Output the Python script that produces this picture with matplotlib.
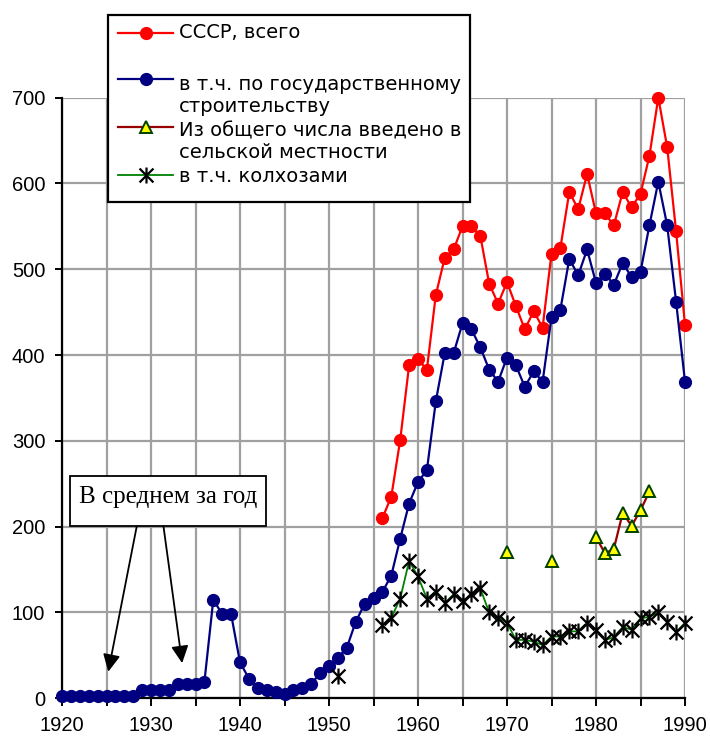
import numpy as np
import matplotlib
matplotlib.use("Agg")
import matplotlib.pyplot as plt
from matplotlib.path import Path
from matplotlib.patches import Rectangle
from matplotlib.lines import Line2D

# ---------------- data ----------------
years = list(range(1920, 1991))

total_years = list(range(1956, 1991))
total_values = [210, 235, 301, 388, 395, 383, 470, 513, 523, 550, 550, 539, 483, 460,
                485, 457, 430, 451, 432, 518, 525, 590, 570, 611, 565, 565, 551, 590,
                572, 588, 632, 700, 642, 544, 435]

state_values = [3, 3, 3, 3, 3, 3, 3, 3, 3,
                10, 10, 10, 10,
                17, 17, 17, 19,
                115, 98, 98, 42, 23, 12, 10, 7, 5, 10, 12, 17, 29, 38, 47, 59, 89,
                110, 117, 124, 143, 186, 227, 252, 266, 346, 402, 402, 437, 430, 409,
                383, 369, 397, 388, 363, 381, 369, 444, 453, 512, 493, 523, 484, 495,
                482, 507, 491, 497, 551, 602, 551, 462, 369]

rural_years = [1970, 1975, 1980, 1981, 1982, 1983, 1984, 1985, 1986]
rural_values = [171, 160, 188, 169, 174, 216, 201, 219, 241]

kolkhoz_years = [1951] + list(range(1956, 1991))
kolkhoz_values = [26,
                  85, 94, 116, 160, 142, 116, 124, 111, 121, 113, 121, 128, 100, 94,
                  88, 68, 68, 66, 62, 72, 72, 78, 78, 88, 80, 68, 71, 83, 80, 93,
                  95, 100, 89, 77, 88]

labels = ["СССР, всего",
          "в т.ч. по государственному\nстроительству",
          "Из общего числа введено в\nсельской местности",
          "в т.ч. колхозами"]
annotation_text = "В среднем за год"

x_ticks = list(range(1920, 1991, 10))
y_ticks = list(range(0, 701, 100))


def full_series(ys, vs):
    """Place values on the yearly axis, NaN where there is no value (gap)."""
    d = dict(zip(ys, vs))
    lo, hi = min(ys), max(ys)
    xs = list(range(lo, hi + 1))
    return xs, [d.get(x, np.nan) for x in xs]


# ---------------- style ----------------
FONT = "Liberation Sans"
LEGFONT = "DejaVu Sans"
RED = "#FF0000"
BLUE = "#000080"
DARKRED = "#990000"
GREEN = "#008000"
GRID = "#A0A0A0"

asterisk = Path([(-1, -1), (1, 1), (-1, 1), (1, -1), (0, -1.15), (0, 1.15)],
                [Path.MOVETO, Path.LINETO, Path.MOVETO, Path.LINETO, Path.MOVETO, Path.LINETO])

W, H = 710, 738
fig = plt.figure(figsize=(W / 100, H / 100), dpi=100)
fig.patch.set_facecolor("white")

# axes: x 1920 -> px 62, 1990 -> px 685 ; y 0 -> px 698.3, 700 -> px 97.6
ax = fig.add_axes([62 / W, 1 - 698.3 / H, (685 - 62) / W, (698.3 - 97.6) / H])
ax.set_xlim(1920, 1990)
ax.set_ylim(0, 700)

ax.set_xticks(list(range(1920, 1991, 5)))
ax.set_xticklabels([str(v) if v in x_ticks else "" for v in range(1920, 1991, 5)])
ax.set_yticks(y_ticks)
ax.grid(True, color=GRID, linewidth=1.6, zorder=0)
ax.set_axisbelow(True)
for s in ("top", "right"):
    ax.spines[s].set_visible(False)
for s in ("left", "bottom"):
    ax.spines[s].set_linewidth(1.6)
    ax.spines[s].set_color("black")
    ax.spines[s].set_zorder(1)
ax.tick_params(direction="out", width=1.4, colors="black", labelsize=14.5)
ax.tick_params(axis="x", length=6, pad=7)
ax.tick_params(axis="y", length=5, pad=7)
for lab in ax.get_xticklabels() + ax.get_yticklabels():
    lab.set_fontfamily(FONT)

# ---------------- series ----------------
ax.plot(total_years, total_values, color=RED, lw=1.6, marker="o", ms=8.5,
        mfc=RED, mec=RED, clip_on=False, zorder=3)
ax.plot(years, state_values, color=BLUE, lw=1.6, marker="o", ms=8.5,
        mfc=BLUE, mec=BLUE, clip_on=False, zorder=3)
rx, rv = full_series(rural_years, rural_values)
ax.plot(rx, rv, color=DARKRED, lw=1.6, marker="^", ms=9,
        mfc="#FFFF00", mec="#004000", mew=1.4, clip_on=False, zorder=4)
kx, kv = full_series(kolkhoz_years, kolkhoz_values)
ax.plot(kx, kv, color=GREEN, lw=1.3, marker=asterisk, ms=11.5,
        mfc="none", mec="black", mew=1.6, clip_on=False, zorder=4)

# ---------------- annotation box with arrows ----------------
ax.add_patch(Rectangle((1920.95, 200.5), 22.0, 59.0, fc="white", ec="black",
                       lw=1.3, zorder=5))
ax.text(1931.9, 235, annotation_text, ha="center", va="center",
        fontfamily="Liberation Serif", fontsize=18, zorder=6)
arrow_kw = dict(arrowstyle="-|>", mutation_scale=26, color="black", lw=1.3,
                shrinkA=0, shrinkB=0)
ax.annotate("", xy=(1925.2, 31), xytext=(1928.4, 200.5), arrowprops=arrow_kw, zorder=6)
ax.annotate("", xy=(1933.5, 41), xytext=(1931.4, 200.5), arrowprops=arrow_kw, zorder=6)

# ---------------- legend (Excel-like layout) ----------------
def fx(px):
    return px / W


def fy(py):
    return 1 - py / H


fig.add_artist(Rectangle((fx(108), fy(202)), (470 - 108) / W, (202 - 15) / H,
                         transform=fig.transFigure, fc="white", ec="black",
                         lw=1.6, zorder=10))
handles = [
    dict(color=RED, marker="o", ms=8.5, mfc=RED, mec=RED, mew=1, lw=1.6),
    dict(color=BLUE, marker="o", ms=8.5, mfc=BLUE, mec=BLUE, mew=1, lw=1.6),
    dict(color=DARKRED, marker="^", ms=9, mfc="#FFFF00", mec="#004000", mew=1.4, lw=1.6),
    dict(color=GREEN, marker=asterisk, ms=11.5, mfc="none", mec="black", mew=1.6, lw=1.3),
]
handle_y = [33, 79, 127, 175]
text_y = [33, 95, 142, 177]
for kw, hy, ty, lab in zip(handles, handle_y, text_y, labels):
    ln = Line2D([fx(118), fx(173)], [fy(hy), fy(hy)], transform=fig.transFigure,
                zorder=11, markevery=[], **kw)
    fig.add_artist(ln)
    mk = Line2D([fx(145.5)], [fy(hy)], transform=fig.transFigure, zorder=12,
                linestyle="none", **{k: v for k, v in kw.items() if k not in ("lw", "color")})
    fig.add_artist(mk)
    fig.text(fx(179), fy(ty), lab, ha="left", va="center", fontfamily=LEGFONT,
             fontsize=14, linespacing=1.2, zorder=12)

fig.savefig("out.png", dpi=100, facecolor="white")
